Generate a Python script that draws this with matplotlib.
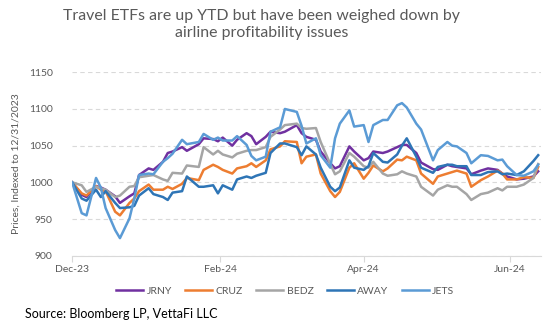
import numpy as np
import pandas as pd
import matplotlib
matplotlib.use('Agg')
import matplotlib.pyplot as plt
import matplotlib.dates as mdates

# sample dates (every ~2 trading days)
dates = pd.to_datetime([
    '2023-12-29', '2024-01-02', '2024-01-04', '2024-01-08', '2024-01-10', '2024-01-12',
    '2024-01-16', '2024-01-18', '2024-01-22', '2024-01-24', '2024-01-26', '2024-01-30',
    '2024-02-01', '2024-02-05', '2024-02-07', '2024-02-09', '2024-02-13', '2024-02-15',
    '2024-02-20', '2024-02-22', '2024-02-26', '2024-02-28', '2024-03-01', '2024-03-05',
    '2024-03-07', '2024-03-11', '2024-03-13', '2024-03-15', '2024-03-19', '2024-03-21',
    '2024-03-25', '2024-03-27', '2024-04-01', '2024-04-03', '2024-04-05', '2024-04-09',
    '2024-04-11', '2024-04-15', '2024-04-17', '2024-04-19', '2024-04-23', '2024-04-25',
    '2024-04-29', '2024-05-01', '2024-05-03', '2024-05-07', '2024-05-09', '2024-05-13',
    '2024-05-15', '2024-05-17', '2024-05-21', '2024-05-23', '2024-05-28', '2024-05-30',
    '2024-06-03', '2024-06-05', '2024-06-07', '2024-06-11', '2024-06-13', '2024-06-17',
    '2024-06-20', '2024-06-24', '2024-06-26', '2024-06-28', '2024-07-02', '2024-07-05',
    '2024-07-09', '2024-07-11'])

jrny = [1000, 983, 980, 995, 993, 990, 981, 972, 981, 985, 1010, 1019,
        1017, 1028, 1040, 1042, 1048, 1043, 1052, 1060, 1059, 1056, 1061, 1050,
        1058, 1067, 1063, 1052, 1062, 1069, 1067, 1069, 1078, 1067, 1062, 1058,
        1042, 1026, 1019, 1022, 1049, 1042, 1030, 1033, 1042, 1040, 1042, 1048,
        1051, 1051, 1040, 1027, 1018, 1017, 1024, 1022, 1021, 1019, 1011, 1016,
        1019, 1017, 1012, 1008, 1004, 1005, 1008, 1015]
cruz = [1000, 985, 982, 995, 990, 988, 960, 955, 972, 978, 988, 997,
        990, 990, 994, 991, 998, 1006, 1003, 1017, 1024, 1021, 1017, 1012,
        1019, 1022, 1026, 1021, 1030, 1045, 1049, 1056, 1055, 1026, 1035, 1038,
        1012, 988, 980, 987, 1020, 1026, 1005, 1013, 1023, 1015, 1019, 1031,
        1030, 1035, 1030, 1012, 998, 1008, 1012, 1014, 1016, 1012, 994, 1003,
        1008, 1016, 1012, 1004, 1004, 1007, 1006, 1021]
bedz = [1000, 996, 987, 994, 992, 990, 980, 982, 994, 995, 1007, 1009,
        1010, 1004, 1002, 1013, 1012, 1023, 1021, 1048, 1038, 1043, 1038, 1034,
        1039, 1043, 1044, 1044, 1048, 1062, 1072, 1078, 1080, 1074, 1073, 1074,
        1055, 1025, 1011, 1015, 1040, 1035, 1022, 1020, 1028, 1012, 1009, 1011,
        1015, 1012, 1008, 994, 982, 990, 996, 994, 994, 984, 976, 984,
        986, 992, 989, 994, 994, 997, 1006, 1025]
away = [1000, 978, 975, 990, 980, 988, 972, 965, 966, 968, 982, 992,
        984, 980, 976, 986, 988, 1008, 994, 994, 996, 985, 996, 990,
        1004, 1008, 1006, 1009, 1013, 1040, 1053, 1053, 1048, 1037, 1049, 1038,
        1020, 994, 988, 993, 1030, 1020, 1017, 1022, 1040, 1028, 1027, 1038,
        1050, 1060, 1035, 1020, 1013, 1021, 1024, 1024, 1022, 1022, 1010, 1010,
        1014, 1015, 1011, 1012, 1010, 1015, 1029, 1037]
jets = [1000, 958, 955, 1006, 993, 965, 935, 924, 951, 978, 1010, 1012,
        1011, 1028, 1033, 1039, 1058, 1052, 1055, 1066, 1058, 1061, 1057, 1057,
        1063, 1051, 1036, 1030, 1035, 1069, 1075, 1100, 1096, 1077, 1053, 1060,
        1037, 1020, 1060, 1080, 1098, 1076, 1078, 1055, 1078, 1085, 1085, 1105,
        1108, 1102, 1080, 1072, 1030, 1044, 1055, 1050, 1049, 1040, 1026, 1037,
        1036, 1030, 1031, 1022, 1010, 1009, 1015, 1024]

names = ['JRNY', 'CRUZ', 'BEDZ', 'AWAY', 'JETS']
series = [jrny, cruz, bedz, away, jets]
colors = ['#7030A0', '#ED7D31', '#A5A5A5', '#2E75B6', '#5B9BD5']

tick_dates = pd.to_datetime(['2023-12-29', '2024-02-29', '2024-04-29', '2024-06-29'])
yticks = [900, 950, 1000, 1050, 1100, 1150]

plt.rcParams['font.family'] = ['Lato', 'DejaVu Sans']
txt = '#595959'

fig = plt.figure(figsize=(5.55, 3.30), dpi=100)
ax = fig.add_axes([0.130, 0.225, 0.844, 0.556])

for name, vals, c in zip(names, series, colors):
    ax.plot(dates, vals, color=c, lw=1.8, label=name, solid_joinstyle='round')

ax.set_ylim(900, 1150)
ax.set_yticks(yticks)
ax.set_xlim(pd.Timestamp('2023-12-29'), pd.Timestamp('2024-07-12'))
ax.set_xticks(tick_dates)
ax.xaxis.set_major_formatter(mdates.DateFormatter('%b-%y'))
ax.grid(axis='y', color='#d9d9d9', lw=0.8, ls=(0, (4, 3)))
ax.set_axisbelow(True)
for s in ['top', 'right', 'left']:
    ax.spines[s].set_visible(False)
ax.spines['bottom'].set_color('#d9d9d9')
ax.tick_params(axis='y', length=0, labelsize=7.5, labelcolor=txt, pad=14)
ax.tick_params(axis='x', length=4, color='#d9d9d9', labelsize=7.5, labelcolor=txt, pad=3)
ax.set_ylabel('Prices, Indexed to 12/31/2023', fontsize=7.5, color=txt, labelpad=6)

fig.text(0.471, 0.925, 'Travel ETFs are up YTD but have been weighed down by\nairline profitability issues',
         ha='center', va='center', fontsize=11.4, color=txt, linespacing=1.3)

ax.legend(loc='upper center', bbox_to_anchor=(0.455, -0.115), ncol=5, frameon=False,
          fontsize=7.5, labelcolor=txt, handlelength=2.6, handletextpad=0.3, columnspacing=1.3)

fig.text(0.045, 0.048, 'Source: Bloomberg LP, VettaFi LLC', ha='left', va='center',
         fontsize=9, color='black')

fig.savefig('out.png', dpi=100)
